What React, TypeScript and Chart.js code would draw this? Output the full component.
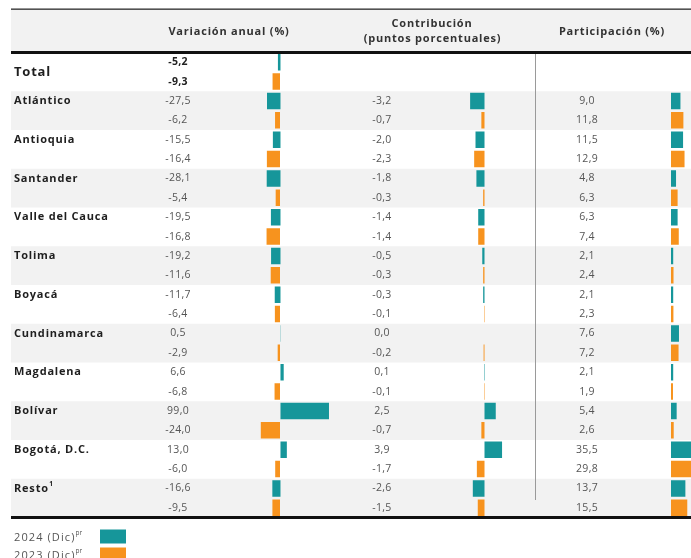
import React, { useEffect, useRef } from "react";
import { Chart, registerables } from "chart.js";

Chart.register(...registerables);

const regions = [
  "Total",
  "Atlántico",
  "Antioquia",
  "Santander",
  "Valle del Cauca",
  "Tolima",
  "Boyacá",
  "Cundinamarca",
  "Magdalena",
  "Bolívar",
  "Bogotá, D.C.",
  "Resto",
];
const regionNotes = ["", "", "", "", "", "", "", "", "", "", "", "1"];

const variacion2024 = [-5.2, -27.5, -15.5, -28.1, -19.5, -19.2, -11.7, 0.5, 6.6, 99.0, 13.0, -16.6];
const variacion2023 = [-9.3, -6.2, -16.4, -5.4, -16.8, -11.6, -6.4, -2.9, -6.8, -24.0, -6.0, -9.5];
const contribucion2024 = [null, -3.2, -2.0, -1.8, -1.4, -0.5, -0.3, 0.0, 0.1, 2.5, 3.9, -2.6];
const contribucion2023 = [null, -0.7, -2.3, -0.3, -1.4, -0.3, -0.1, -0.2, -0.1, -0.7, -1.7, -1.5];
const participacion2024 = [null, 9.0, 11.5, 4.8, 6.3, 2.1, 2.1, 7.6, 2.1, 5.4, 35.5, 13.7];
const participacion2023 = [null, 11.8, 12.9, 6.3, 7.4, 2.4, 2.3, 7.2, 1.9, 2.6, 29.8, 15.5];

const seriesNames = ["2024 (Dic)", "2023 (Dic)"];
const seriesNote = "pr";
const headers = ["Variación anual (%)", "Contribución", "(puntos porcentuales)", "Participación (%)"];

const TEAL = "#16969a";
const ORANGE = "#f7931e";
const FONT = "'Open Sans', 'Noto Sans', sans-serif";

const rowLabels: string[] = [];
regions.forEach((r) => {
  rowLabels.push(r + " 2024");
  rowLabels.push(r + " 2023");
});

function spread(values: (number | null)[], slot: number) {
  const out: (number | null)[] = [];
  values.forEach((v) => {
    if (slot === 0) {
      out.push(v);
      out.push(null);
    } else {
      out.push(null);
      out.push(v);
    }
  });
  return out;
}

const fmt = (v: number) => v.toFixed(1).replace(".", ",");

const tablePlugin = {
  id: "tableDecor",
  beforeDatasetsDraw(chart: any) {
    const ctx = chart.ctx as CanvasRenderingContext2D;
    const y = chart.scales.y;
    const W = chart.width;
    const step = y.getPixelForValue(1) - y.getPixelForValue(0);
    ctx.save();
    ctx.fillStyle = "#f2f2f2";
    ctx.fillRect(11, 9, W - 11, 43);
    regions.forEach((_, i) => {
      if (i % 2 === 1) {
        const top = y.getPixelForValue(2 * i) - step / 2;
        ctx.fillRect(11, top, W - 11, 2 * step);
      }
    });
    ctx.strokeStyle = "#9a9a9a";
    ctx.lineWidth = 1;
    ctx.beginPath();
    ctx.moveTo(535.5, 54);
    ctx.lineTo(535.5, 500);
    ctx.stroke();
    ctx.restore();
  },
  afterDatasetsDraw(chart: any) {
    const ctx = chart.ctx as any;
    const y = chart.scales.y;
    const W = chart.width;
    ctx.save();
    // lines
    ctx.fillStyle = "#2b2b2b";
    ctx.fillRect(11, 8.5, W - 11, 1.3);
    ctx.fillStyle = "#111";
    ctx.fillRect(11, 51, W - 11, 3);
    ctx.fillRect(11, 516, W - 11, 3);

    // headers
    ctx.fillStyle = "#333";
    ctx.letterSpacing = "0.8px";
    ctx.font = `bold 11px ${FONT}`;
    ctx.textAlign = "center";
    ctx.textBaseline = "middle";
    ctx.fillText(headers[0], 229, 31.5);
    ctx.fillText(headers[1], 432, 23.5);
    ctx.fillText(headers[2], 432.5, 38.5);
    ctx.fillText(headers[3], 612, 31.5);

    // region labels
    regions.forEach((r, i) => {
      const c0 = y.getPixelForValue(2 * i);
      const c1 = y.getPixelForValue(2 * i + 1);
      ctx.fillStyle = "#1e1e1e";
      ctx.textAlign = "left";
      ctx.textBaseline = "middle";
      ctx.letterSpacing = "0.8px";
      if (i === 0) {
        ctx.font = `bold 13px ${FONT}`;
        ctx.fillText(r, 14, (c0 + c1) / 2);
      } else {
        ctx.font = `bold 11px ${FONT}`;
        ctx.fillText(r, 14, c0);
        if (regionNotes[i]) {
          const w = ctx.measureText(r).width;
          ctx.font = `bold 6.5px ${FONT}`;
          ctx.fillText(regionNotes[i], 14 + w + 0.5, c0 - 4);
        }
      }
      const cols: [(number | null)[], (number | null)[], number][] = [
        [variacion2024, variacion2023, 178],
        [contribucion2024, contribucion2023, 382],
        [participacion2024, participacion2023, 587],
      ];
      ctx.letterSpacing = "0.3px";
      cols.forEach(([a, b, x]) => {
        ctx.textAlign = "center";
        ctx.fillStyle = i === 0 ? "#222" : "#555";
        ctx.font = i === 0 ? `bold 10.5px ${FONT}` : `10.5px ${FONT}`;
        const va = a[i];
        const vb = b[i];
        if (va !== null) ctx.fillText(fmt(va), x, c0);
        if (vb !== null) ctx.fillText(fmt(vb), x, c1);
      });
    });

    // legend
    const legendColors = [TEAL, ORANGE];
    seriesNames.forEach((n, k) => {
      const cy = 537.5 + k * 18;
      ctx.fillStyle = "#555";
      ctx.textAlign = "left";
      ctx.textBaseline = "middle";
      ctx.letterSpacing = "1.1px";
      ctx.font = `11px ${FONT}`;
      ctx.fillText(n, 14, cy);
      const w = ctx.measureText(n).width;
      ctx.letterSpacing = "0px";
      ctx.font = `6.5px ${FONT}`;
      ctx.fillText(seriesNote, 14 + w, cy - 4);
      ctx.fillStyle = legendColors[k];
      ctx.fillRect(100, cy - 8, 26, 14);
    });
    ctx.restore();
  },
};

export default function App() {
  const ref = useRef<HTMLCanvasElement | null>(null);
  useEffect(() => {
    if (!ref.current) return;
    const common = {
      grouped: false,
      barPercentage: 0.85,
      categoryPercentage: 1,
      borderWidth: 0,
    };
    const chart = new Chart(ref.current, {
      type: "bar",
      data: {
        labels: rowLabels,
        datasets: [
          { ...common, label: "Variación 2024", data: spread(variacion2024, 0), backgroundColor: TEAL, xAxisID: "xa24" },
          { ...common, label: "Variación 2023", data: spread(variacion2023, 1), backgroundColor: ORANGE, xAxisID: "xa23" },
          { ...common, label: "Contribución 2024", data: spread(contribucion2024, 0), backgroundColor: TEAL, xAxisID: "xb" },
          { ...common, label: "Contribución 2023", data: spread(contribucion2023, 1), backgroundColor: ORANGE, xAxisID: "xb" },
          { ...common, label: "Participación 2024", data: spread(participacion2024, 0), backgroundColor: TEAL, xAxisID: "xc" },
          { ...common, label: "Participación 2023", data: spread(participacion2023, 1), backgroundColor: ORANGE, xAxisID: "xc" },
        ] as any,
      },
      options: {
        indexAxis: "y",
        animation: false,
        responsive: false,
        layout: { padding: { top: 52.5, bottom: 40.5, left: 0, right: 0 } },
        plugins: { legend: { display: false }, tooltip: { enabled: false } },
        scales: {
          y: { type: "category", display: false, offset: true, grid: { display: false } },
          xa24: { type: "linear", axis: "x", display: false, min: -572.4, max: 837.8 },
          xa23: { type: "linear", axis: "x", display: false, min: -350, max: 513.75 },
          xb: { type: "linear", axis: "x", display: false, min: -107.7, max: 45.9 },
          xc: { type: "linear", axis: "x", display: false, min: -639, max: 19.05 },
        },
      } as any,
      plugins: [tablePlugin],
    });
    return () => chart.destroy();
  }, []);
  return (
    <div style={{ position: "fixed", left: 0, top: 0, width: 691, height: 558, background: "#fff" }}>
      <canvas ref={ref} width={691} height={558} style={{ display: "block" }} />
    </div>
  );
}
